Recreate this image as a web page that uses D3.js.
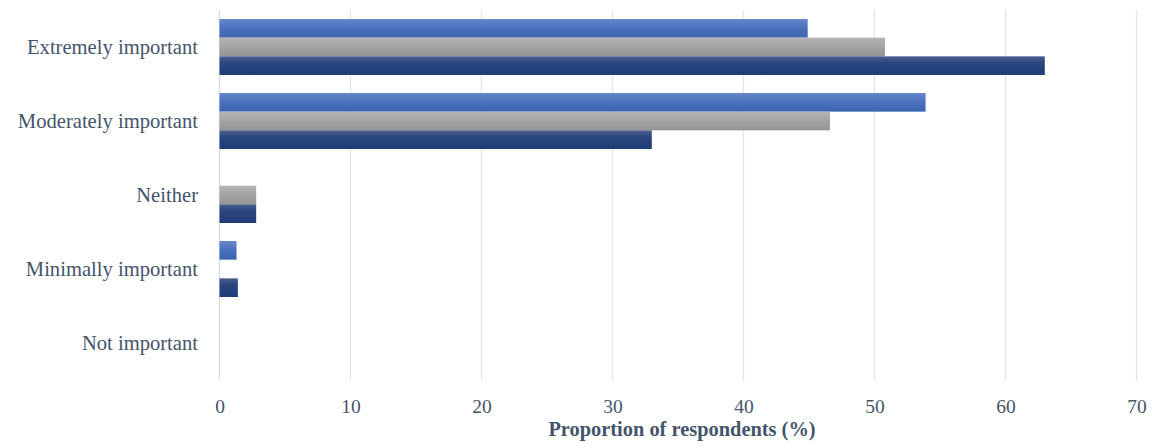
<!DOCTYPE html>
<html><head><meta charset="utf-8">
<script src="https://cdn.jsdelivr.net/npm/d3@7"></script>
<style>body{margin:0;background:#fff;} svg{display:block;}</style>
</head><body>
<svg id="chart" width="1152" height="448"></svg>
<script>
const categories = ["Extremely important","Moderately important","Neither","Minimally important","Not important"];
const seriesNames = ["Series A","Series B","Series C"];
const seriesA = [44.9, 53.9, 0, 1.3, 0];
const seriesB = [50.8, 46.6, 2.8, 0, 0];
const seriesC = [63.0, 33.0, 2.8, 1.4, 0];
const xTicks = [0,10,20,30,40,50,60,70];
const axisTitle = "Proportion of respondents (%)";

(function(){
const series = [seriesA, seriesB, seriesC];
const svg = d3.select("#chart");
const mLeft = 219.5, mRight = 1136.5, mTop = 10, mBottom = 380;
const x = d3.scaleLinear().domain([0,70]).range([mLeft,mRight]);
const y = d3.scaleBand().domain(categories).range([mTop,mBottom]).padding(0);
const inner = d3.scaleBand().domain([0,1,2]).range([9, y.bandwidth()-9]).padding(0);
const font = "'Liberation Serif','Times New Roman',serif";

const defs = svg.append("defs");
const grads = [
  [["0%","#6788ca"],["50%","#4a70bb"],["100%","#3c64b0"]],
  [["0%","#b4b4b4"],["50%","#a3a3a3"],["100%","#949494"]],
  [["0%","#4c5f8c"],["35%","#2b467f"],["100%","#1f3c76"]]
];
grads.forEach((g,i)=>{
  const lg = defs.append("linearGradient").attr("id","g"+i).attr("x1",0).attr("y1",0).attr("x2",0).attr("y2",1);
  g.forEach(s=>lg.append("stop").attr("offset",s[0]).attr("stop-color",s[1]));
});

svg.append("g").selectAll("line").data(xTicks).join("line")
  .attr("x1",d=>x(d)).attr("x2",d=>x(d)).attr("y1",mTop).attr("y2",mBottom)
  .attr("stroke",d=>d===0?"#d6dce6":"#e1e6ee").attr("stroke-width",1.3);

const groups = svg.append("g").selectAll("g").data(categories).join("g")
  .attr("transform",d=>`translate(0,${y(d)})`);
groups.selectAll("rect").data((d,ci)=>series.map((s,si)=>({si,v:s[ci]})).filter(e=>e.v>0)).join("rect")
  .attr("x",x(0)).attr("y",d=>inner(d.si)).attr("height",inner.bandwidth())
  .attr("width",d=>x(d.v)-x(0)).attr("fill",d=>`url(#g${d.si})`);

svg.append("g").selectAll("text").data(categories).join("text")
  .attr("x",198).attr("y",d=>y(d)+y.bandwidth()/2).attr("dy","0.35em")
  .attr("text-anchor","end").attr("fill","#44546a")
  .style("font-family",font).style("font-size","20.6px")
  .text(d=>d);

const xa = d3.axisBottom(x).tickValues(xTicks).tickSize(0).tickPadding(0).tickFormat(d3.format("d"));
const ag = svg.append("g").attr("transform",`translate(0,${mBottom})`).call(xa);
ag.select(".domain").remove();
ag.selectAll("text").attr("y",26).attr("dy","0.35em").attr("fill","#44546a")
  .style("font-family",font).style("font-size","19.5px");

svg.append("text").attr("x",682).attr("y",436).attr("text-anchor","middle")
  .attr("fill","#44546a").style("font-family",font)
  .style("font-size","20.4px").style("font-weight","bold").text(axisTitle);
})();
</script>
</body></html>
